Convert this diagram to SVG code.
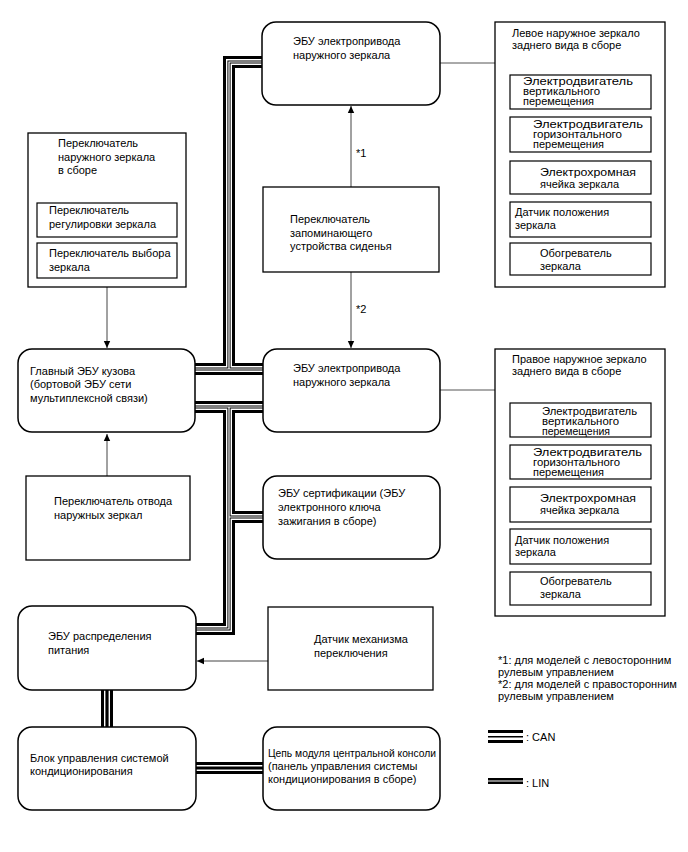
<svg xmlns="http://www.w3.org/2000/svg" width="688" height="852" viewBox="0 0 688 852">
<defs>
<marker id="ah" markerWidth="8" markerHeight="8" refX="7" refY="4" orient="auto" markerUnits="userSpaceOnUse">
<path d="M0,0.8 L7,4 L0,7.2 Z" fill="#000"/>
</marker>
<style>
text{font-family:"Liberation Sans",Arial,sans-serif;font-size:11px;fill:#000}
text.s{font-size:10px}
.rr{fill:#fff;stroke:#000;stroke-width:1.5}
.bx{fill:#fff;stroke:#000;stroke-width:1.3}
.sb{fill:#fff;stroke:#000;stroke-width:1.2}
.ln{fill:none;stroke:#555;stroke-width:1}
.ar{fill:none;stroke:#444;stroke-width:1;marker-end:url(#ah)}
.b1{fill:none;stroke:#000;stroke-width:12}
.b2{fill:none;stroke:#fff;stroke-width:6}
.b3{fill:none;stroke:#000;stroke-width:3.2}
.b4{fill:none;stroke:#fff;stroke-width:1.2}
</style>
</defs>
<rect width="688" height="852" fill="#fff"/>

<g id="connectors">
<g class="b1">
<path d="M195,369 H263 M229,369 V62 H262"/>
<path d="M195,407 H263 M229,407 V629 H196 M229,517 H263"/>
<path d="M107,690 V727"/>
<path d="M196,768 H263"/>
</g>
<g class="b2">
<path d="M195,369 H263 M229,369 V62 H262"/>
<path d="M195,407 H263 M229,407 V629 H196 M229,517 H263"/>
<path d="M107,690 V727"/>
<path d="M196,768 H263"/>
</g>
<g class="b3">
<path d="M195,369 H263 M229,369 V62 H262"/>
<path d="M195,407 H263 M229,407 V629 H196 M229,517 H263"/>
<path d="M107,690 V727"/>
<path d="M196,768 H263"/>
</g>
<g class="b4">
<path d="M195,369 H263 M229,369 V62 H262"/>
<path d="M195,407 H263 M229,407 V629 H196 M229,517 H263"/>
</g>
<path class="ln" d="M440,63 H495"/>
<path class="ln" d="M440,390 H495"/>
<path class="ar" d="M351,187 V106"/>
<path class="ar" d="M351,272 V348"/>
<path class="ar" d="M107,287 V348"/>
<path class="ar" d="M107,476 V434"/>
<path class="ar" d="M268,661 H197"/>
<text x="356" y="157">*1</text>
<text x="356" y="313">*2</text>
</g>

<g id="ecu-top">
<rect class="rr" x="262" y="22" width="178" height="83" rx="14"/>
<text x="293" y="45">ЭБУ электропривода</text>
<text x="293" y="59">наружного зеркала</text>
</g>

<g id="mirror-left">
<rect class="bx" x="495" y="22" width="170" height="265"/>
<text x="512" y="37">Левое наружное зеркало</text>
<text x="512" y="49">заднего вида в сборе</text>
<rect class="sb" x="510" y="75" width="141" height="34"/>
<text class="s" x="523" y="85" textLength="110" lengthAdjust="spacingAndGlyphs">Электродвигатель</text>
<text class="s" x="523" y="95" textLength="77" lengthAdjust="spacingAndGlyphs">вертикального</text>
<text class="s" x="523" y="105" textLength="71" lengthAdjust="spacingAndGlyphs">перемещения</text>
<rect class="sb" x="510" y="117" width="141" height="35"/>
<text class="s" x="533" y="128" textLength="110" lengthAdjust="spacingAndGlyphs">Электродвигатель</text>
<text class="s" x="533" y="138" textLength="89" lengthAdjust="spacingAndGlyphs">горизонтального</text>
<text class="s" x="533" y="148" textLength="71" lengthAdjust="spacingAndGlyphs">перемещения</text>
<rect class="sb" x="510" y="161" width="141" height="33"/>
<text x="540" y="176" textLength="96" lengthAdjust="spacingAndGlyphs">Электрохромная</text>
<text x="540" y="188">ячейка зеркала</text>
<rect class="sb" x="510" y="202" width="141" height="35"/>
<text x="515" y="216">Датчик положения</text>
<text x="515" y="229">зеркала</text>
<rect class="sb" x="510" y="243" width="141" height="32"/>
<text x="540" y="257">Обогреватель</text>
<text x="540" y="270">зеркала</text>
</g>

<g id="seat-switch">
<rect class="bx" x="263" y="187" width="176" height="85"/>
<text x="290" y="223">Переключатель</text>
<text x="290" y="237">запоминающего</text>
<text x="290" y="250">устройства сиденья</text>
</g>

<g id="mirror-switch">
<rect class="bx" x="28" y="133" width="158" height="154"/>
<text x="58" y="147">Переключатель</text>
<text x="58" y="161">наружного зеркала</text>
<text x="58" y="174">в сборе</text>
<rect class="sb" x="37" y="203" width="140" height="34"/>
<text x="49" y="214">Переключатель</text>
<text x="49" y="228">регулировки зеркала</text>
<rect class="sb" x="37" y="243" width="140" height="35"/>
<text x="49" y="257">Переключатель выбора</text>
<text x="49" y="271">зеркала</text>
</g>

<g id="main-ecu">
<rect class="rr" x="18" y="349" width="177" height="83" rx="14"/>
<text x="30" y="375">Главный ЭБУ кузова</text>
<text x="30" y="388">(бортовой ЭБУ сети</text>
<text x="30" y="402">мультиплексной связи)</text>
</g>

<g id="ecu-middle">
<rect class="rr" x="263" y="349" width="177" height="83" rx="14"/>
<text x="293" y="372">ЭБУ электропривода</text>
<text x="293" y="386">наружного зеркала</text>
</g>

<g id="mirror-right">
<rect class="bx" x="495" y="349" width="170" height="267"/>
<text x="512" y="363">Правое наружное зеркало</text>
<text x="512" y="375">заднего вида в сборе</text>
<rect class="sb" x="510" y="403" width="141" height="34"/>
<text class="s" x="542" y="415" textLength="95" lengthAdjust="spacingAndGlyphs">Электродвигатель</text>
<text class="s" x="542" y="425" textLength="77" lengthAdjust="spacingAndGlyphs">вертикального</text>
<text class="s" x="542" y="435" textLength="68" lengthAdjust="spacingAndGlyphs">перемещения</text>
<rect class="sb" x="510" y="445" width="141" height="34"/>
<text class="s" x="533" y="456" textLength="109" lengthAdjust="spacingAndGlyphs">Электродвигатель</text>
<text class="s" x="533" y="466" textLength="87" lengthAdjust="spacingAndGlyphs">горизонтального</text>
<text class="s" x="533" y="476" textLength="71" lengthAdjust="spacingAndGlyphs">перемещения</text>
<rect class="sb" x="510" y="487" width="141" height="35"/>
<text x="540" y="502" textLength="96" lengthAdjust="spacingAndGlyphs">Электрохромная</text>
<text x="540" y="514">ячейка зеркала</text>
<rect class="sb" x="510" y="529" width="141" height="35"/>
<text x="515" y="544">Датчик положения</text>
<text x="515" y="556">зеркала</text>
<rect class="sb" x="510" y="572" width="141" height="33"/>
<text x="540" y="585">Обогреватель</text>
<text x="540" y="598">зеркала</text>
</g>

<g id="retract-switch">
<rect class="bx" x="26" y="476" width="164" height="84"/>
<text x="54" y="505">Переключатель отвода</text>
<text x="54" y="519">наружных зеркал</text>
</g>

<g id="cert-ecu">
<rect class="rr" x="263" y="476" width="177" height="83" rx="14"/>
<text x="278" y="497">ЭБУ сертификации (ЭБУ</text>
<text x="278" y="511">электронного ключа</text>
<text x="278" y="525">зажигания в сборе)</text>
</g>

<g id="power-ecu">
<rect class="rr" x="18" y="606" width="178" height="84" rx="14"/>
<text x="48" y="640">ЭБУ распределения</text>
<text x="48" y="654">питания</text>
</g>

<g id="shift-sensor">
<rect class="bx" x="268" y="607" width="165" height="83"/>
<text x="314" y="643">Датчик механизма</text>
<text x="314" y="657">переключения</text>
</g>

<g id="ac-block">
<rect class="rr" x="18" y="727" width="178" height="83" rx="14"/>
<text x="30" y="762">Блок управления системой</text>
<text x="30" y="775">кондиционирования</text>
</g>

<g id="console">
<rect class="rr" x="263" y="727" width="177" height="83" rx="14"/>
<text x="268" y="757" textLength="168" lengthAdjust="spacingAndGlyphs">Цепь модуля центральной консоли</text>
<text x="268" y="770">(панель управления системы</text>
<text x="268" y="783">кондиционирования в сборе)</text>
</g>

<g id="legend">
<text x="498" y="664">*1: для моделей с левосторонним</text>
<text x="498" y="676">рулевым управлением</text>
<text x="498" y="688">*2: для моделей с правосторонним</text>
<text x="498" y="700">рулевым управлением</text>
<rect x="488" y="730" width="35" height="3" fill="#000"/>
<rect x="488" y="736" width="35" height="1.5" fill="#000"/>
<rect x="488" y="740" width="35" height="3" fill="#000"/>
<text x="526" y="741">: CAN</text>
<rect x="488" y="778" width="35" height="6" fill="#000"/>
<rect x="488" y="780.5" width="35" height="1" fill="#fff"/>
<text x="526" y="787">: LIN</text>
</g>
</svg>
